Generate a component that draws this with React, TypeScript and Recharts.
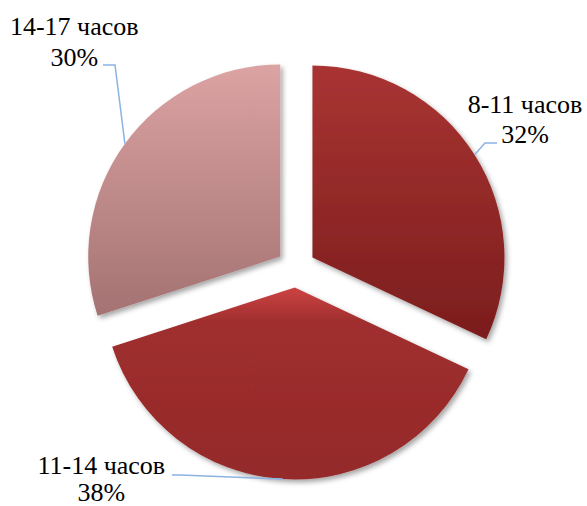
import React from "react";
import { PieChart, Pie, Cell } from "recharts";

const categories = ["8-11 часов", "11-14 часов", "14-17 часов"];
const shares = [32, 38, 30];
const percentLabels = ["32%", "38%", "30%"];

const data = categories.map((name, i) => ({ name, value: shares[i], pct: percentLabels[i] }));

const W = 587;
const H = 506;
const CX = 296;
const CY = 268;
const R = 192;
const EXPLODE = 19.5;
const START = 90;
const END = -270;

const gradientStops = [
  [
    [0, "#A93432"],
    [1, "#7B1D1D"],
  ],
  [
    [0, "#CD4343"],
    [0.18, "#A02E2E"],
    [1, "#942A2A"],
  ],
  [
    [0, "#DCA3A3"],
    [1, "#A47272"],
  ],
];

// label layout relative to the exploded slice apex
const labelLayout = [
  { dx: 212.5, y1: -144.5, y2: -114.5, lead: [[184.5, -114.5], [172.5, -114.5]] },
  { dx: -193.5, y1: 186.5, y2: 213.5, lead: [[-122.8, 187.5], [-114.8, 187.5]] },
  { dx: -206, y1: -221.5, y2: -190.5, lead: [[-177.2, -191.5], [-165.2, -191.5]] },
];

const RAD = Math.PI / 180;
const total = shares.reduce((a, b) => a + b, 0);
const midAngles = shares.map((v, i) => {
  const before = shares.slice(0, i).reduce((a, b) => a + b, 0);
  return START - ((before + v / 2) / total) * (START - END);
});

const FONT = "Liberation Serif";
const FONT_SIZE = 26;

const makeLabel = (own: number) => (props: any) => {
  if (props.index !== own) return <g key={`n${props.index}`} />;
  const { cx, cy, midAngle, outerRadius } = props;
  const L = labelLayout[own];
  const ax = cx + outerRadius * Math.cos(-midAngle * RAD);
  const ay = cy + outerRadius * Math.sin(-midAngle * RAD);
  const pts = [...L.lead.map(([x, y]) => `${cx + x},${cy + y}`), `${ax},${ay}`].join(" ");
  return (
    <g key={`l${own}`}>
      <polyline points={pts} fill="none" stroke="#8DB3E2" strokeWidth={1.5} />
      <text
        x={cx + L.dx}
        y={cy + L.y1}
        textAnchor="middle"
        fontFamily={FONT}
        fontSize={FONT_SIZE}
        fill="#000"
      >
        {categories[own]}
      </text>
      <text
        x={cx + L.dx}
        y={cy + L.y2}
        textAnchor="middle"
        fontFamily={FONT}
        fontSize={FONT_SIZE}
        fill="#000"
      >
        {percentLabels[own]}
      </text>
    </g>
  );
};

export default function App() {
  return (
    <div style={{ position: "absolute", left: 0, top: 0, width: W, height: H, background: "#fff" }}>
      <PieChart width={W} height={H} margin={{ top: 0, right: 0, bottom: 0, left: 0 }}>
        <defs>
          {gradientStops.map((stops, i) => (
            <linearGradient key={i} id={`grad${i}`} x1="0" y1="0" x2="0" y2="1">
              {stops.map(([o, c], j) => (
                <stop key={j} offset={o as number} stopColor={c as string} />
              ))}
            </linearGradient>
          ))}
          <filter id="shadow" x="-20%" y="-20%" width="140%" height="140%">
            <feDropShadow dx="2.5" dy="3" stdDeviation="2.5" floodColor="#000" floodOpacity="0.35" />
          </filter>
        </defs>
        {shares.map((_, own) => (
          <Pie
            key={own}
            data={data}
            dataKey="value"
            nameKey="name"
            cx={CX + EXPLODE * Math.cos(midAngles[own] * RAD)}
            cy={CY - EXPLODE * Math.sin(midAngles[own] * RAD)}
            outerRadius={R}
            innerRadius={0}
            startAngle={START}
            endAngle={END}
            stroke="none"
            isAnimationActive={false}
            labelLine={false}
            label={makeLabel(own)}
          >
            {data.map((d, i) => (
              <Cell
                key={d.name}
                fill={i === own ? `url(#grad${i})` : "none"}
                stroke="none"
                filter={i === own ? "url(#shadow)" : undefined}
              />
            ))}
          </Pie>
        ))}
      </PieChart>
    </div>
  );
}
